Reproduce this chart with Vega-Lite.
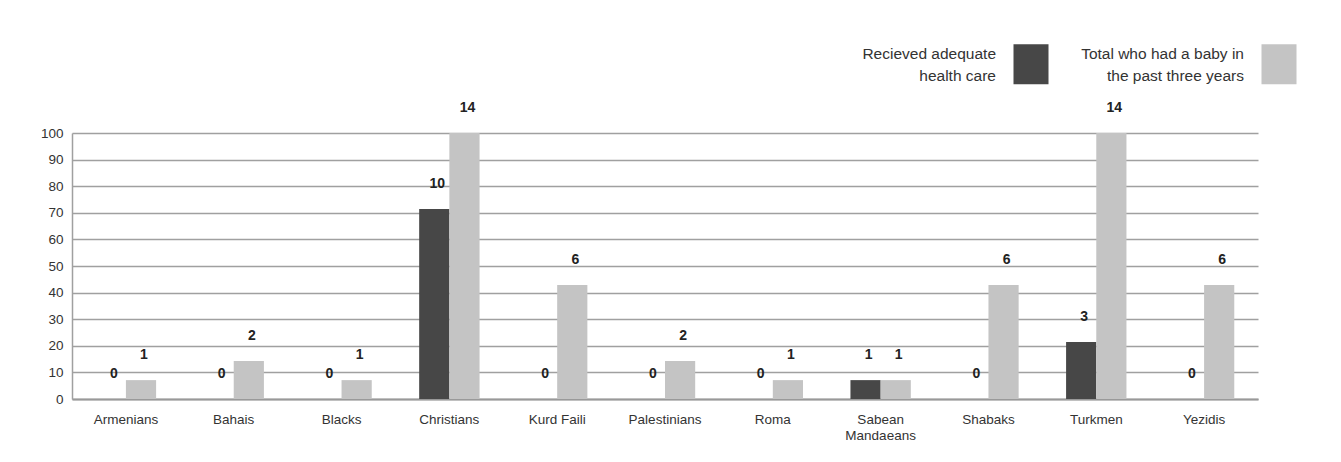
{
  "$schema": "https://vega.github.io/schema/vega-lite/v6.json",
  "width": 1186,
  "height": 266,
  "autosize": {"type": "none"},
  "padding": {"left": 72, "top": 133, "right": 83, "bottom": 63},
  "background": "white",
  "config": {"view": {"stroke": null}, "font": "Liberation Sans"},
  "data": {
    "values": [
      {"group": "Armenians", "series": "Recieved adequate health care", "count": 0, "pct": 0},
      {"group": "Armenians", "series": "Total who had a baby in the past three years", "count": 1, "pct": 7.1},
      {"group": "Bahais", "series": "Recieved adequate health care", "count": 0, "pct": 0},
      {"group": "Bahais", "series": "Total who had a baby in the past three years", "count": 2, "pct": 14.3},
      {"group": "Blacks", "series": "Recieved adequate health care", "count": 0, "pct": 0},
      {"group": "Blacks", "series": "Total who had a baby in the past three years", "count": 1, "pct": 7.1},
      {"group": "Christians", "series": "Recieved adequate health care", "count": 10, "pct": 71.4},
      {"group": "Christians", "series": "Total who had a baby in the past three years", "count": 14, "pct": 100},
      {"group": "Kurd Faili", "series": "Recieved adequate health care", "count": 0, "pct": 0},
      {"group": "Kurd Faili", "series": "Total who had a baby in the past three years", "count": 6, "pct": 42.9},
      {"group": "Palestinians", "series": "Recieved adequate health care", "count": 0, "pct": 0},
      {"group": "Palestinians", "series": "Total who had a baby in the past three years", "count": 2, "pct": 14.3},
      {"group": "Roma", "series": "Recieved adequate health care", "count": 0, "pct": 0},
      {"group": "Roma", "series": "Total who had a baby in the past three years", "count": 1, "pct": 7.1},
      {"group": "Sabean Mandaeans", "series": "Recieved adequate health care", "count": 1, "pct": 7.1},
      {"group": "Sabean Mandaeans", "series": "Total who had a baby in the past three years", "count": 1, "pct": 7.1},
      {"group": "Shabaks", "series": "Recieved adequate health care", "count": 0, "pct": 0},
      {"group": "Shabaks", "series": "Total who had a baby in the past three years", "count": 6, "pct": 42.9},
      {"group": "Turkmen", "series": "Recieved adequate health care", "count": 3, "pct": 21.4},
      {"group": "Turkmen", "series": "Total who had a baby in the past three years", "count": 14, "pct": 100},
      {"group": "Yezidis", "series": "Recieved adequate health care", "count": 0, "pct": 0},
      {"group": "Yezidis", "series": "Total who had a baby in the past three years", "count": 6, "pct": 42.9}
    ]
  },
  "encoding": {
    "x": {
      "field": "group",
      "type": "nominal",
      "sort": null,
      "scale": {"paddingInner": 0.44, "paddingOuter": 0.22},
      "axis": {
        "title": null,
        "labelAngle": 0,
        "ticks": false,
        "domainColor": "#999999",
        "domainWidth": 2,
        "labelPadding": 13,
        "labelFontSize": 13.5,
        "labelColor": "#333333",
        "labelLineHeight": 16,
        "labelExpr": "datum.label == 'Sabean Mandaeans' ? ['Sabean', 'Mandaeans'] : datum.label"
      }
    },
    "xOffset": {
      "field": "series",
      "type": "nominal",
      "sort": ["Recieved adequate health care", "Total who had a baby in the past three years"]
    },
    "y": {
      "field": "pct",
      "type": "quantitative",
      "scale": {"domain": [0, 100], "nice": false},
      "axis": {
        "title": null,
        "values": [0, 10, 20, 30, 40, 50, 60, 70, 80, 90, 100],
        "grid": true,
        "gridColor": "#a0a0a0",
        "gridWidth": 1.5,
        "domain": true,
        "domainColor": "#a0a0a0",
        "domainWidth": 1.5,
        "ticks": false,
        "labelPadding": 9,
        "labelFontSize": 13.5,
        "labelColor": "#333333"
      }
    }
  },
  "layer": [
    {
      "mark": {"type": "bar"},
      "encoding": {
        "color": {
          "field": "series",
          "type": "nominal",
          "scale": {
            "domain": ["Recieved adequate health care", "Total who had a baby in the past three years"],
            "range": ["#474747", "#c4c4c4"]
          },
          "legend": {
            "title": null,
            "orient": "none",
            "legendX": 939,
            "legendY": -89,
            "direction": "horizontal",
            "symbolType": "M-0.875,-1H0.875V1H-0.875Z",
            "symbolSize": 1600,
            "symbolStrokeWidth": 0,
            "symbolOpacity": 1,
            "labelAlign": "right",
            "labelOffset": -55,
            "labelFontSize": 15.5,
            "labelColor": "#333333",
            "labelLimit": 300,
            "columnPadding": 32,
            "labelExpr": "datum.label == 'Recieved adequate health care' ? ['Recieved adequate', 'health care'] : ['Total who had a baby in', 'the past three years']",
            "encode": {"labels": {"update": {"lineHeight": {"value": 22}, "dy": {"value": -10}}}}
          }
        }
      }
    },
    {
      "mark": {"type": "text", "dy": -25, "dx": 3, "fontWeight": "bold", "fontSize": 14, "color": "#222222"},
      "encoding": {"text": {"field": "count", "type": "quantitative"}}
    }
  ]
}
